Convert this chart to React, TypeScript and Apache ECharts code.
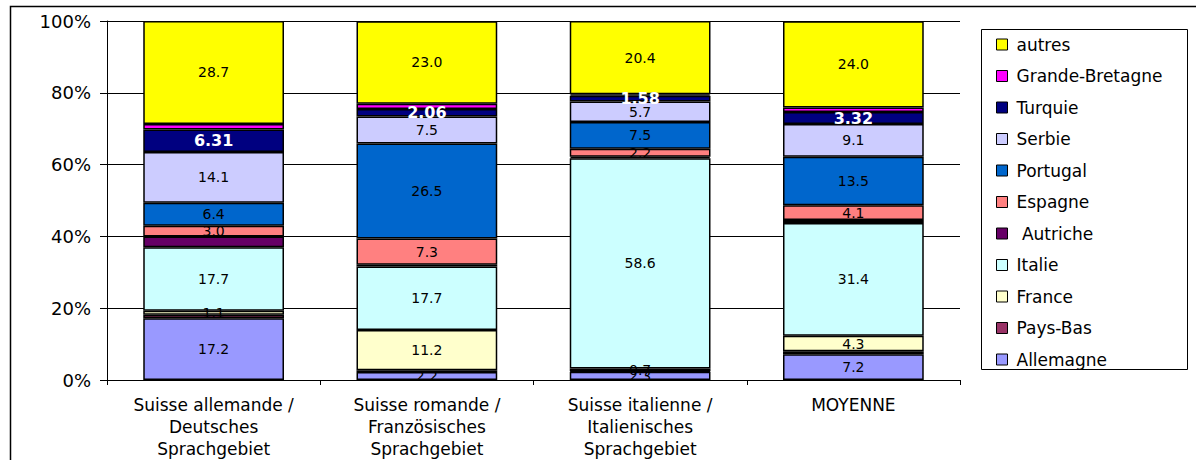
import React, { useEffect, useRef } from "react";
import * as echarts from "echarts";

const categories = [
  "Suisse allemande /\nDeutsches\nSprachgebiet",
  "Suisse romande /\nFranzösisches\nSprachgebiet",
  "Suisse italienne /\nItalienisches\nSprachgebiet",
  "MOYENNE",
];

const seriesNames = [
  "Allemagne",
  "Pays-Bas",
  "France",
  "Italie",
  " Autriche",
  "Espagne",
  "Portugal",
  "Serbie",
  "Turquie",
  "Grande-Bretagne",
  "autres",
];

const allemagne = [17.2, 2.2, 2.3, 7.2];
const paysBas = [1.0, 0.5, 0.2, 0.8];
const france = [1.1, 11.2, 0.7, 4.3];
const italie = [17.7, 17.7, 58.6, 31.4];
const autriche = [3.0, 0.5, 0.4, 0.9];
const espagne = [3.0, 7.3, 2.2, 4.1];
const portugal = [6.4, 26.5, 7.5, 13.5];
const serbie = [14.1, 7.5, 5.7, 9.1];
const turquie = [6.31, 2.06, 1.58, 3.32];
const grandeBretagne = [1.5, 1.5, 0.4, 1.3];
const autres = [28.7, 23.0, 20.4, 24.0];

const seriesValues = [
  allemagne,
  paysBas,
  france,
  italie,
  autriche,
  espagne,
  portugal,
  serbie,
  turquie,
  grandeBretagne,
  autres,
];

const colors = [
  "#9999FF",
  "#993366",
  "#FFFFCC",
  "#CCFFFF",
  "#660066",
  "#FF8080",
  "#0066CC",
  "#CCCCFF",
  "#000080",
  "#FF00FF",
  "#FFFF00",
];

const labeled = [true, false, true, true, false, true, true, true, true, false, true];

const yTicks = [0, 20, 40, 60, 80, 100];

const FONT = "DejaVu Sans";

export default function App() {
  const ref = useRef<HTMLDivElement>(null);

  useEffect(() => {
    if (!ref.current) return;
    const chart = echarts.init(ref.current, undefined, { renderer: "svg" });

    const series = seriesNames.map((name, i) => {
      const isTurquie = name === "Turquie";
      return {
        name,
        type: "bar",
        stack: "total",
        barWidth: "66%",
        data: seriesValues[i],
        itemStyle: {
          color: colors[i],
          borderColor: "#000",
          borderWidth: 1.5,
        },
        label: {
          show: labeled[i],
          position: "inside",
          fontFamily: FONT,
          fontSize: isTurquie ? 16 : 14,
          fontWeight: isTurquie ? "bold" : "normal",
          color: isTurquie ? "#fff" : "#000",
          formatter: (p: any) =>
            isTurquie ? Number(p.value).toFixed(2) : Number(p.value).toFixed(1),
        },
      };
    });

    chart.setOption({
      animation: false,
      backgroundColor: "#fff",
      grid: { left: 107, right: 236, top: 21, bottom: 79, containLabel: false },
      legend: {
        orient: "vertical",
        left: 996,
        top: 36,
        padding: 0,
        itemWidth: 11,
        itemHeight: 11,
        itemGap: 14.5,
        icon: "rect",
        data: [...seriesNames].reverse(),
        itemStyle: { borderColor: "#000", borderWidth: 1 },
        textStyle: {
          fontFamily: FONT,
          fontSize: 17,
          lineHeight: 17,
          color: "#000",
          padding: [0, 0, 0, 4],
        },
      },
      xAxis: {
        type: "category",
        data: categories,
        axisLine: { lineStyle: { color: "#000", width: 1 } },
        axisTick: { show: true, length: 5, lineStyle: { color: "#000" } },
        axisLabel: {
          fontFamily: FONT,
          fontSize: 17,
          lineHeight: 22,
          color: "#000",
          margin: 14,
          interval: 0,
        },
      },
      yAxis: {
        type: "value",
        min: yTicks[0],
        max: yTicks[yTicks.length - 1],
        interval: 20,
        axisLine: { show: true, lineStyle: { color: "#000", width: 1 } },
        axisTick: { show: true, length: 7, lineStyle: { color: "#000" } },
        splitLine: { show: true, lineStyle: { color: "#000", width: 1 } },
        axisLabel: {
          fontFamily: FONT,
          fontSize: 18,
          color: "#000",
          margin: 16,
          formatter: (v: number) => `${v}%`,
        },
      },
      graphic: [
        {
          type: "rect",
          silent: true,
          z: -10,
          shape: { x: 10.5, y: 6.5, width: 1300, height: 600 },
          style: { fill: "none", stroke: "#000", lineWidth: 1.5 },
        },
        {
          type: "rect",
          silent: true,
          z: -5,
          shape: { x: 981.5, y: 29.5, width: 206, height: 340 },
          style: { fill: "#fff", stroke: "#000", lineWidth: 1 },
        },
      ],
      series,
    });

    return () => chart.dispose();
  }, []);

  return (
    <div
      ref={ref}
      style={{ position: "fixed", left: 0, top: 0, width: 1196, height: 460 }}
    />
  );
}
